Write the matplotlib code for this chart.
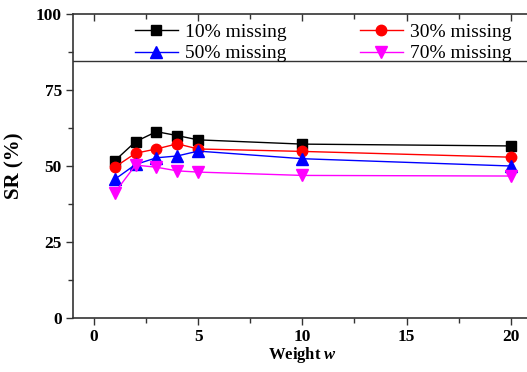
import matplotlib
matplotlib.use("Agg")
import matplotlib.pyplot as plt
from matplotlib.ticker import MultipleLocator

plt.rcParams['font.family'] = ['Liberation Serif', 'DejaVu Serif']
plt.rcParams['mathtext.fontset'] = 'custom'
plt.rcParams['mathtext.it'] = 'Liberation Serif:bold:italic'

weights = [1, 2, 3, 4, 5, 10, 20]
sr_10 = [51.7, 58.0, 61.3, 60.0, 58.6, 57.2, 56.6]
sr_30 = [49.6, 54.2, 55.6, 57.3, 55.6, 54.8, 52.9]
sr_50 = [45.6, 50.5, 52.7, 53.3, 54.9, 52.4, 50.0]
sr_70 = [41.2, 50.3, 49.6, 48.4, 48.0, 46.9, 46.7]
labels = ["10% missing", "30% missing", "50% missing", "70% missing"]

fig = plt.figure(figsize=(5.27, 3.72), dpi=100)
ax = fig.add_axes([73 / 527, 54 / 372, (531.7 - 73) / 527, 304 / 372])

series = [
    (sr_10, 'black', 's', 6.5),
    (sr_30, 'red', 'o', 7.5),
    (sr_50, 'blue', '^', 8),
    (sr_70, 'magenta', 'v', 8),
]
handles = []
for (vals, col, mk, ms), lab in zip(series, labels):
    h, = ax.plot(weights, vals, color=col, marker=mk, markersize=ms, lw=1.0,
                 label=lab, clip_on=False)
    handles.append(h)

ax.set_xlim(-1, 21)
ax.set_ylim(0, 100)
ax.xaxis.set_major_locator(MultipleLocator(5))
ax.xaxis.set_minor_locator(MultipleLocator(2.5))
ax.yaxis.set_major_locator(MultipleLocator(25))
ax.yaxis.set_minor_locator(MultipleLocator(12.5))

for sp in ax.spines.values():
    sp.set_color('#333333')
    sp.set_linewidth(1.2)

ax.tick_params(axis='both', which='major', direction='out', length=5,
               width=1.0, color='#333333', labelsize=12.5, pad=3)
ax.tick_params(axis='both', which='minor', direction='out', length=3.5,
               width=1.0, color='#333333')
ax.tick_params(axis='x', which='both', top=True)
for lbl in ax.get_xticklabels() + ax.get_yticklabels():
    lbl.set_fontweight('bold')

# inward ticks along the top edge
for t in ax.xaxis.get_major_ticks() + ax.xaxis.get_minor_ticks():
    t.tick2line.set_marker(3)

ax.set_xlabel(r"Weight $\mathit{w}$", fontsize=12, fontweight='bold', labelpad=0)
ax.set_ylabel("SR (%)", fontsize=15, fontweight='bold', labelpad=8)

# legend band along the top of the plot, entries filled row by row
ax.axhline(84.5, color='#333333', lw=1.0)
order = [0, 2, 1, 3]
ax.legend([handles[i] for i in order], [labels[i] for i in order],
          loc='upper left', bbox_to_anchor=(135 / 527, 1 - 23 / 372),
          bbox_transform=fig.transFigure, ncol=2, frameon=False,
          fontsize=14, handlelength=2.2, handletextpad=0.35,
          borderpad=0.0, labelspacing=0.22, columnspacing=3.8,
          borderaxespad=0.0)

fig.savefig("out.png", dpi=100)
